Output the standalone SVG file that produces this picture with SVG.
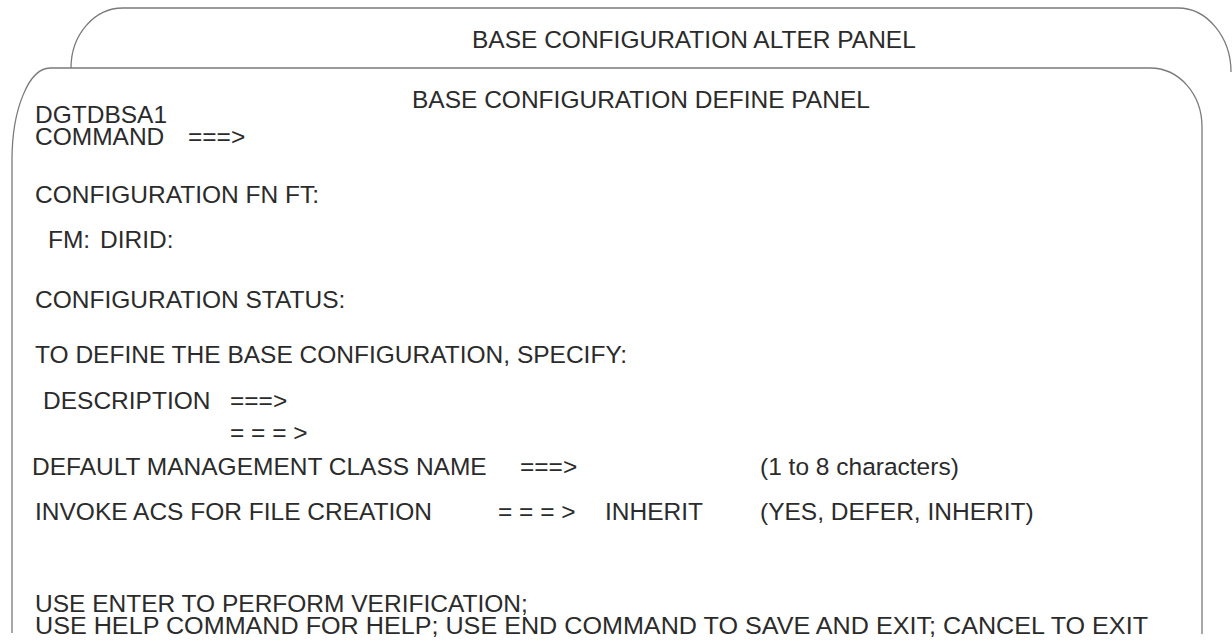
<svg xmlns="http://www.w3.org/2000/svg" width="1232" height="643" viewBox="0 0 1232 643">
<style>
.frame{fill:#fff;stroke:#7a7a7a;stroke-width:1.3}
.t{font-family:"Liberation Sans",Arial,sans-serif;font-size:24.5px;fill:#2b2b2b}
</style>
<rect width="1232" height="643" fill="#fff"/>
<g id="alter-panel">
<path class="frame" d="M71,68 C71,35 94,8 123,8 L1178,8 C1207,8 1231,37 1231,72"/>
<text class="t" x="472" y="48">BASE CONFIGURATION ALTER PANEL</text>
</g>
<g id="define-panel">
<path class="frame" d="M12,633 L12,160 C12,109 29,68 50,68 L1150,68 C1179,68 1202,94 1202,127 L1202,634"/>
<text class="t" x="412" y="108">BASE CONFIGURATION DEFINE PANEL</text>
<text class="t" x="35" y="123">DGTDBSA1</text>
<text class="t" x="35" y="145">COMMAND</text>
<text class="t" x="188" y="145">===&gt;</text>
<text class="t" x="35" y="203">CONFIGURATION FN FT:</text>
<text class="t" x="48" y="248">FM:</text>
<text class="t" x="100" y="248">DIRID:</text>
<text class="t" x="35" y="308">CONFIGURATION STATUS:</text>
<text class="t" x="35" y="363">TO DEFINE THE BASE CONFIGURATION, SPECIFY:</text>
<text class="t" x="43" y="409">DESCRIPTION</text>
<text class="t" x="230" y="409">===&gt;</text>
<text class="t" x="230" y="441" xml:space="preserve">= = = &gt;</text>
<text class="t" x="32" y="475">DEFAULT MANAGEMENT CLASS NAME</text>
<text class="t" x="520" y="475">===&gt;</text>
<text class="t" x="760" y="475">(1 to 8 characters)</text>
<text class="t" x="35" y="520">INVOKE ACS FOR FILE CREATION</text>
<text class="t" x="498" y="520" xml:space="preserve">= = = &gt;</text>
<text class="t" x="605" y="520">INHERIT</text>
<text class="t" x="760" y="520">(YES, DEFER, INHERIT)</text>
<text class="t" x="35" y="612">USE ENTER TO PERFORM VERIFICATION;</text>
<text class="t" x="35" y="634" textLength="1113" lengthAdjust="spacingAndGlyphs">USE HELP COMMAND FOR HELP; USE END COMMAND TO SAVE AND EXIT; CANCEL TO EXIT</text>
</g>
</svg>
